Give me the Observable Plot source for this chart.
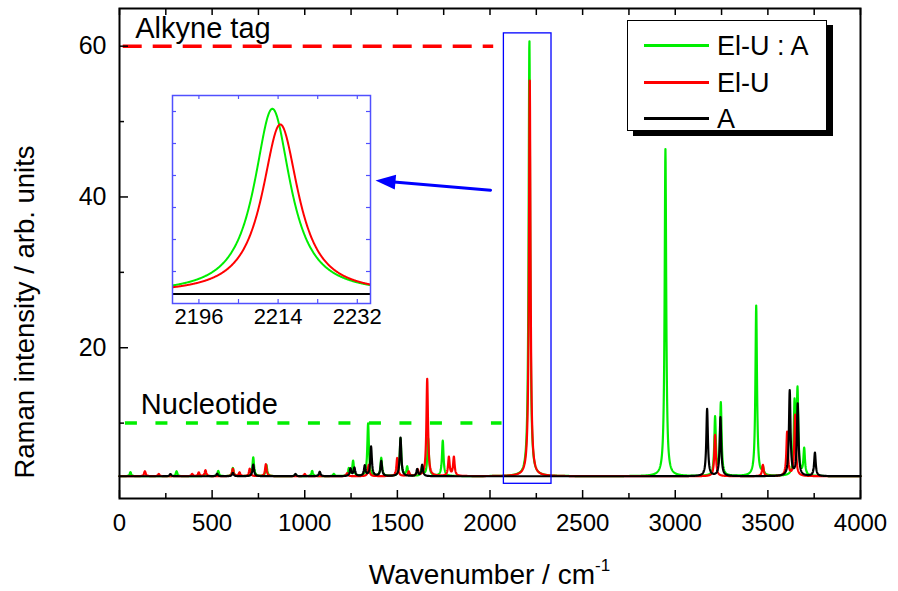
<!DOCTYPE html>
<html><head><meta charset="utf-8">
<script src="https://cdn.jsdelivr.net/npm/d3@7"></script>
<script src="https://cdn.jsdelivr.net/npm/@observablehq/plot@0.6"></script>
<style>
body{margin:0;background:#fff;}
#wrap{position:relative;width:898px;height:591px;font-family:"Liberation Sans",Arial,sans-serif;color:#000;overflow:hidden}
#wrap > *{position:absolute;}
.legend{left:627px;top:20px;width:200px;height:111px;border:1.5px solid #000;box-shadow:6px 5px 0 #000;background:#fff;box-sizing:border-box}
.lg-line{position:absolute;height:3px;width:65px;left:16px}
.lg-text{position:absolute;left:89px;font-size:27px;line-height:27px;white-space:nowrap}
.xtitle{left:0;width:979px;top:559px;text-align:center;font-size:28px;white-space:nowrap}
.ytitle{left:25px;top:312px;font-size:27.5px;white-space:nowrap;transform:translate(-50%,-50%) rotate(-90deg)}
sup{font-size:17px;vertical-align:13px;line-height:0}
</style></head><body><div id="wrap"></div>
<script>
// ---------- data ----------
const seriesNames = ["El-U : A", "El-U", "A"];
const baseline = 2.95;          // common offset of the three spectra
const lineWidthCm = 5;          // Lorentzian half width (cm-1)

const greenPeakPos = [59, 308, 464, 533, 612, 722, 793, 950, 1040, 1157, 1238, 1261, 1342, 1413, 1517, 1553, 1634, 1666, 1745, 2212.7, 2947, 3215, 3246, 3437, 3473, 3644, 3660, 3696];
const greenPeakHeight = [0.55, 0.66, 0.35, 0.7, 1.1, 2.5, 1.5, 0.2, 0.7, 0.3, 1.0, 2.0, 7.0, 2.4, 5.0, 1.2, 1.2, 5.0, 4.7, 57.9, 43.4, 7.7, 9.6, 22.6, 0.9, 9.3, 11.0, 3.5];

const redPeakPos = [137, 212, 392, 428, 464, 612, 648, 703, 790, 1000, 1229, 1345, 1499, 1561, 1610, 1661, 1778, 1805, 2214.5, 3215, 3473, 3604, 3647];
const redPeakHeight = [0.66, 0.3, 0.3, 0.5, 0.8, 1.0, 0.5, 1.0, 1.6, 0.3, 0.4, 1.5, 2.4, 0.6, 0.8, 12.9, 2.5, 2.5, 53.0, 5.5, 1.5, 5.8, 8.1];

const blackPeakPos = [275, 527, 612, 722, 950, 1081, 1247, 1268, 1324, 1358, 1413, 1517, 1607, 1634, 3172, 3244, 3618, 3661, 3754];
const blackPeakHeight = [0.3, 0.35, 0.45, 1.55, 0.3, 0.6, 1.0, 1.1, 1.37, 3.9, 2.0, 5.1, 0.9, 1.5, 8.9, 7.8, 11.3, 9.5, 3.1];

const xMajorTicks = [0, 500, 1000, 1500, 2000, 2500, 3000, 3500, 4000];
const xMinorTicks = [250, 750, 1250, 1750, 2250, 2750, 3250, 3750];
const yMajorTicks = [20, 40, 60];
const yMinorTicks = [10, 30, 50];
const insetTickLabels = [2196, 2214, 2232];
const insetTopTicks = [2196, 2205, 2214, 2223, 2232];
const insetYTicks = [10, 20, 30, 40, 50, 60];

const tagLines = [
  {label: "Alkyne tag", y: 60, x1: 20, x2: 2020, color: "red"},
  {label: "Nucleotide", y: 10, x1: 32, x2: 2065, color: "green"}
];
const tagLabels = [
  {text: "Alkyne tag", x: 85, y: 62.3},
  {text: "Nucleotide", x: 115, y: 12.5}
];
const zoomBox = [{x1: 2075, x2: 2332, y1: 1.95, y2: 61.7}];
const arrowFrom = {x: 2003, y: 40.9};
const arrowTip = {x: 1382, y: 42.2};
const arrowShaftEnd = {x: 1450, y: 42.05};

// ---------- build ----------
const GREEN = "#00ee00", RED = "#ff0000", BLACK = "#000000", BLUE = "#0000ff";
const FONT = '"Liberation Sans", Arial, sans-serif';

function spectrum(pos, h, xs) {
  return xs.map(x => {
    let s = baseline;
    for (let i = 0; i < pos.length; i++) { const d = (x - pos[i]) / lineWidthCm; s += h[i] / (1 + d * d); }
    return {x, y: s};
  });
}
const mainGrid = d3.range(0, 4000.01, 1);
const insetGrid = d3.range(2190, 2235.01, 0.1);
const sGreen = spectrum(greenPeakPos, greenPeakHeight, mainGrid);
const sRed = spectrum(redPeakPos, redPeakHeight, mainGrid);
const sBlack = spectrum(blackPeakPos, blackPeakHeight, mainGrid);
const iGreen = spectrum(greenPeakPos, greenPeakHeight, insetGrid);
const iRed = spectrum(redPeakPos, redPeakHeight, insetGrid);
const iBlack = spectrum(blackPeakPos, blackPeakHeight, insetGrid);

const arrowHead = {
  draw(ctx) { ctx.moveTo(0, 0); ctx.lineTo(-7.5, 20); ctx.lineTo(7.5, 20); ctx.closePath(); }
};

const W = 898, H = 591, mL = 119, mR = 38, mT = 8, mB = 93;
const fw = W - mL - mR, fh = H - mT - mB;

const main = Plot.plot({
  width: W, height: H, marginLeft: mL, marginRight: mR, marginTop: mT, marginBottom: mB,
  x: {domain: [0, 4000]}, y: {domain: [0, 65]},
  style: {fontFamily: FONT, fontSize: "24px", color: "#000", background: "transparent", overflow: "visible"},
  marks: [
    Plot.ruleY([tagLines[0]], {y: "y", x1: "x1", x2: "x2", stroke: RED, strokeWidth: 3.5, strokeDasharray: "19,11"}),
    Plot.ruleY([tagLines[1]], {y: "y", x1: "x1", x2: "x2", stroke: GREEN, strokeWidth: 3.5, strokeDasharray: "12,18.5"}),
    Plot.line(sGreen, {x: "x", y: "y", stroke: GREEN, strokeWidth: 2.2}),
    Plot.line(sRed, {x: "x", y: "y", stroke: RED, strokeWidth: 2.2}),
    Plot.line(sBlack, {x: "x", y: "y", stroke: BLACK, strokeWidth: 2.2}),
    Plot.rect(zoomBox, {x1: "x1", x2: "x2", y1: "y1", y2: "y2", stroke: BLUE, fill: "none", strokeWidth: 1.3}),
    Plot.ruleX(xMajorTicks, {insetTop: fh - 8, stroke: "#000", strokeWidth: 1.5}),
    Plot.ruleX(xMinorTicks, {insetTop: fh - 5, stroke: "#000", strokeWidth: 1.5}),
    Plot.ruleX(xMajorTicks.concat(xMinorTicks), {insetBottom: fh - 7, stroke: "#000", strokeWidth: 1.5}),
    Plot.ruleY(yMajorTicks, {insetRight: fw - 9, stroke: "#000", strokeWidth: 1.5}),
    Plot.ruleY(yMinorTicks, {insetRight: fw - 5, stroke: "#000", strokeWidth: 1.5}),
    Plot.frame({stroke: "#000", strokeWidth: 2}),
    Plot.axisX({ticks: xMajorTicks, tickSize: 0, tickPadding: 15, tickFormat: "d", label: null, fontSize: 24}),
    Plot.axisY({ticks: yMajorTicks, tickSize: 0, tickPadding: 13, tickFormat: "d", label: null, fontSize: 25}),
    Plot.text(tagLabels, {x: "x", y: "y", text: "text", textAnchor: "start", fontSize: 29, fill: "#000"}),
    Plot.line([arrowFrom, arrowShaftEnd], {x: "x", y: "y", stroke: BLUE, strokeWidth: 3}),
    Plot.dot([arrowTip], {x: "x", y: "y", symbol: arrowHead, fill: BLUE, stroke: "none", rotate: 275, r: 5})
  ]
});

const IW = 206, IH = 246, im = 4, imB = 34;
const ifw = IW - 2 * im, ifh = IH - im - imB;
const INSET_BLUE = "#5050ff";
const inset = Plot.plot({
  width: IW, height: IH, marginLeft: im, marginRight: im, marginTop: im, marginBottom: imB,
  x: {domain: [2190, 2235]}, y: {domain: [0, 65], axis: null},
  style: {fontFamily: FONT, fontSize: "22px", color: "#000", background: "transparent", overflow: "visible"},
  marks: [
    Plot.frame({fill: "#fff", stroke: "none"}),
    Plot.line(iGreen, {x: "x", y: "y", stroke: GREEN, strokeWidth: 2, clip: true}),
    Plot.line(iRed, {x: "x", y: "y", stroke: RED, strokeWidth: 2, clip: true}),
    Plot.line(iBlack, {x: "x", y: "y", stroke: BLACK, strokeWidth: 2, clip: true}),
    Plot.ruleX(insetTopTicks, {insetBottom: ifh - 4, stroke: INSET_BLUE, strokeWidth: 1.2}),
    Plot.ruleX(insetTopTicks, {insetTop: ifh - 4, stroke: INSET_BLUE, strokeWidth: 1.2}),
    Plot.ruleY(insetYTicks, {insetRight: ifw - 4, stroke: INSET_BLUE, strokeWidth: 1.2}),
    Plot.ruleY(insetYTicks, {insetLeft: ifw - 4, stroke: INSET_BLUE, strokeWidth: 1.2}),
    Plot.frame({stroke: INSET_BLUE, strokeWidth: 1.5}),
    Plot.axisX({ticks: insetTickLabels, tickSize: 0, tickPadding: 5, tickFormat: "d", label: null, fontSize: 22})
  ]
});

const wrap = document.getElementById("wrap");
main.style.left = "0px"; main.style.top = "0px";
wrap.appendChild(main);
inset.style.left = (172 - im) + "px"; inset.style.top = (95 - im) + "px";
wrap.appendChild(inset);

// legend
const legend = document.createElement("div");
legend.className = "legend";
const legendColors = [GREEN, RED, BLACK];
const legendY = [24, 61, 97];
seriesNames.forEach((name, i) => {
  const ln = document.createElement("div");
  ln.className = "lg-line"; ln.style.background = legendColors[i]; ln.style.top = (legendY[i] - 1.5) + "px";
  const tx = document.createElement("div");
  tx.className = "lg-text"; tx.textContent = name; tx.style.top = (legendY[i] - 12) + "px";
  legend.appendChild(ln); legend.appendChild(tx);
});
wrap.appendChild(legend);

const xt = document.createElement("div");
xt.className = "xtitle"; xt.innerHTML = "Wavenumber / cm<sup>-1</sup>";
wrap.appendChild(xt);
const yt = document.createElement("div");
yt.className = "ytitle"; yt.textContent = "Raman intensity / arb. units";
wrap.appendChild(yt);
</script></body></html>
